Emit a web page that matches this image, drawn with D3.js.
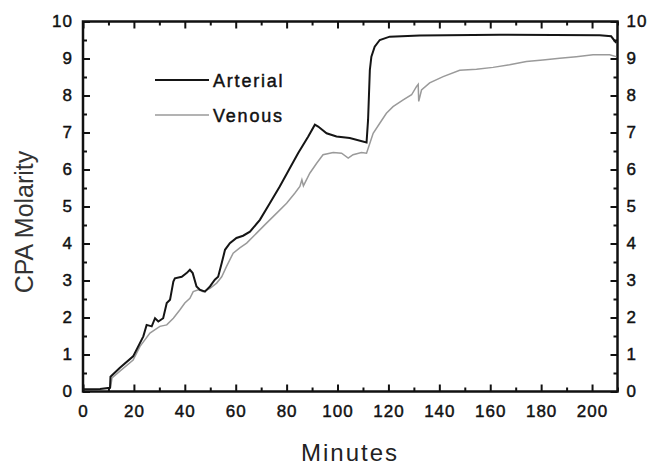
<!DOCTYPE html>
<html>
<head>
<meta charset="utf-8">
<script src="https://cdn.jsdelivr.net/npm/d3@7"></script>
<style>
  body { margin: 0; background: #fff; }
  svg { display: block; }
  .tick text { font-family: "Liberation Sans", Arial, sans-serif; font-size: 17px; fill: #111; stroke: #111; stroke-width: 0.45px; letter-spacing: 1px; }
  .tick line { stroke: #111; stroke-width: 2; }
</style>
</head>
<body>
<script>
// values (minutes, CPA molarity)
var arterialMin = [0, 6.7, 10.6, 10.8, 14.5, 19.7, 23.7, 25.0, 27.0, 28.3, 29.6, 31.5, 32.9, 34.2, 35.5, 36.1, 38.8, 40.7, 42.0, 43.1, 44.6, 45.9, 47.9, 49.9, 51.8, 53.1, 54.5, 55.8, 57.7, 60.3, 62.9, 65.6, 69.5, 73.4, 77.3, 81.3, 84.5, 88.5, 91.1, 92.4, 95.7, 99.6, 104.8, 111.4, 112.0, 112.7, 113.3, 114.6, 116.6, 120.5, 132.3, 163.7, 203, 207.5, 209.5];
var arterialVal = [0.06, 0.07, 0.1, 0.4, 0.64, 0.95, 1.49, 1.8, 1.76, 1.98, 1.89, 1.98, 2.39, 2.48, 2.97, 3.06, 3.1, 3.2, 3.29, 3.2, 2.84, 2.75, 2.7, 2.84, 3.02, 3.1, 3.47, 3.83, 4.01, 4.15, 4.21, 4.32, 4.64, 5.09, 5.54, 6.04, 6.44, 6.89, 7.21, 7.16, 6.98, 6.89, 6.85, 6.73, 7.34, 8.69, 9.05, 9.32, 9.5, 9.59, 9.62, 9.64, 9.63, 9.6, 9.42];

var venousMin = [10.8, 11.4, 14.5, 19.7, 22.4, 26.3, 30.2, 32.9, 35.5, 38.1, 40.0, 42.0, 43.3, 45.3, 47.2, 49.9, 52.5, 54.5, 56.4, 59.0, 61.6, 64.3, 68.2, 72.1, 76.1, 80.0, 83.2, 85.2, 86.0, 86.6, 89.1, 91.8, 94.3, 98.3, 101.6, 104.2, 106.1, 109.4, 111.4, 112.7, 114.0, 116.6, 119.2, 121.8, 125.8, 129.1, 131.0, 131.7, 131.9, 133.0, 136.2, 141.5, 148.0, 154.6, 161.1, 167.6, 174.2, 180.7, 187.3, 193.8, 200.4, 206.9, 209.5];
var venousVal = [0.1, 0.37, 0.55, 0.85, 1.22, 1.58, 1.76, 1.8, 1.98, 2.21, 2.39, 2.52, 2.7, 2.75, 2.7, 2.79, 2.93, 3.1, 3.38, 3.74, 3.88, 4.01, 4.28, 4.55, 4.82, 5.09, 5.36, 5.54, 5.72, 5.56, 5.9, 6.17, 6.4, 6.46, 6.44, 6.31, 6.4, 6.46, 6.44, 6.71, 6.98, 7.25, 7.52, 7.7, 7.88, 8.02, 8.24, 8.3, 7.84, 8.15, 8.34, 8.51, 8.68, 8.71, 8.76, 8.83, 8.92, 8.96, 9.01, 9.05, 9.1, 9.1, 9.05];

var xMajor = [0, 20, 40, 60, 80, 100, 120, 140, 160, 180, 200];
var xMinor = [10, 30, 50, 70, 90, 110, 130, 150, 170, 190, 210];
var yMajor = [0, 1, 2, 3, 4, 5, 6, 7, 8, 9, 10];
var yMinor = [0.5, 1.5, 2.5, 3.5, 4.5, 5.5, 6.5, 7.5, 8.5, 9.5];
var seriesNames = ["Arterial", "Venous"];

const margin = {top: 21.5, right: 33.5, bottom: 74.5, left: 83};
const width = 651 - margin.left - margin.right;
const height = 466 - margin.top - margin.bottom;

var svg = d3.select("body").append("svg")
    .attr("width", 651)
    .attr("height", 466)
  .append("g")
    .attr("transform", "translate(" + margin.left + "," + margin.top + ")");

var xScale = d3.scaleLinear().domain([0, 210]).range([0, width]);
var yScale = d3.scaleLinear().domain([0, 10]).range([height, 0]);

function addAxis(axis, transform) {
    var g = svg.append("g").attr("transform", transform).call(axis);
    g.select(".domain").remove();
    return g;
}

// bottom
addAxis(d3.axisBottom(xScale).tickValues(xMajor).tickSize(-7).tickPadding(13), "translate(0," + height + ")");
addAxis(d3.axisBottom(xScale).tickValues(xMinor).tickSize(-4).tickFormat(""), "translate(0," + height + ")");
// top
addAxis(d3.axisTop(xScale).tickValues(xMajor).tickSize(-7).tickFormat(""), "translate(0,0)");
addAxis(d3.axisTop(xScale).tickValues(xMinor).tickSize(-4).tickFormat(""), "translate(0,0)");
// left
addAxis(d3.axisLeft(yScale).tickValues(yMajor).tickSize(-7).tickPadding(10), "translate(0,0)");
addAxis(d3.axisLeft(yScale).tickValues(yMinor).tickSize(-4).tickFormat(""), "translate(0,0)");
// right
addAxis(d3.axisRight(yScale).tickValues(yMajor).tickSize(-7).tickPadding(9), "translate(" + width + ",0)");
addAxis(d3.axisRight(yScale).tickValues(yMinor).tickSize(-4).tickFormat(""), "translate(" + width + ",0)");

// frame
svg.append("rect")
    .attr("width", width)
    .attr("height", height)
    .attr("fill", "none")
    .attr("stroke", "#111")
    .attr("stroke-width", 2.5);

var line = d3.line()
    .x(function(d) { return xScale(d[0]); })
    .y(function(d) { return yScale(d[1]); });

var venous = venousMin.map(function(m, i) { return [m, venousVal[i]]; });
var arterial = arterialMin.map(function(m, i) { return [m, arterialVal[i]]; });

svg.append("path").datum(venous)
    .attr("d", line)
    .attr("fill", "none")
    .attr("stroke", "#9a9a9a")
    .attr("stroke-width", 1.5);

svg.append("path").datum(arterial)
    .attr("d", line)
    .attr("fill", "none")
    .attr("stroke", "#151515")
    .attr("stroke-width", 2);

// legend
var legendStyle = [{stroke: "#151515", w: 2}, {stroke: "#9a9a9a", w: 1.5}];
var legend = svg.selectAll(".legend").data(seriesNames).enter().append("g")
    .attr("class", "legend")
    .attr("transform", function(d, i) { return "translate(" + (155 - margin.left) + "," + (80 + i * 35 - margin.top) + ")"; });

legend.append("line")
    .attr("x1", 0).attr("x2", 54)
    .attr("stroke", function(d, i) { return legendStyle[i].stroke; })
    .attr("stroke-width", function(d, i) { return legendStyle[i].w; });

legend.append("text")
    .attr("x", 58)
    .attr("y", 6.5)
    .style("font-family", "Liberation Sans, Arial, sans-serif")
    .style("font-size", "18px")
    .style("letter-spacing", "1.8px")
    .attr("fill", "#111")
    .attr("stroke", "#111")
    .attr("stroke-width", 0.45)
    .text(function(d) { return d; });

// axis titles
svg.append("text")
    .attr("transform", "translate(" + (33 - margin.left) + "," + (222 - margin.top) + ") rotate(-90)")
    .attr("text-anchor", "middle")
    .style("font-family", "Liberation Sans, Arial, sans-serif")
    .style("font-size", "25px")
    .attr("fill", "#333")
    .text("CPA Molarity");

svg.append("text")
    .attr("x", 350 - margin.left)
    .attr("y", 461 - margin.top)
    .attr("text-anchor", "middle")
    .style("font-family", "Liberation Sans, Arial, sans-serif")
    .style("font-size", "24px")
    .style("letter-spacing", "2px")
    .attr("fill", "#222")
    .text("Minutes");
</script>
</body>
</html>
